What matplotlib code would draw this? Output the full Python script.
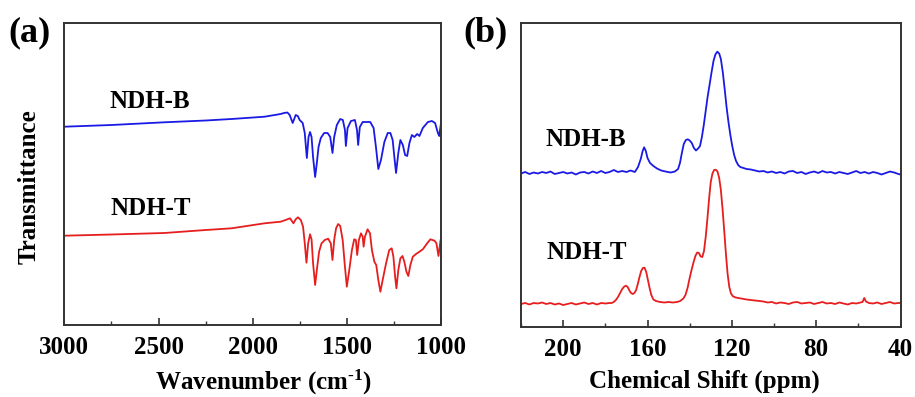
import matplotlib
matplotlib.use("Agg")
import matplotlib.pyplot as plt
from matplotlib.ticker import MultipleLocator

plt.rcParams['font.family'] = ['Liberation Serif', 'DejaVu Serif']
plt.rcParams['font.weight'] = 'bold'
plt.rcParams['mathtext.fontset'] = 'custom'
plt.rcParams['mathtext.rm'] = 'Liberation Serif:bold'
plt.rcParams['mathtext.default'] = 'rm'

# ---------------- Panel (a): FTIR ----------------
ir_b_wn = [3000, 2750, 2470, 2250, 2113, 1938, 1853, 1835, 1817, 1805, 1789, 1773, 1762, 1752,
           1736, 1725, 1714, 1705, 1697, 1689, 1681, 1670, 1661, 1652, 1640, 1622, 1604, 1590,
           1578, 1569, 1555, 1537, 1523, 1512, 1507, 1498, 1480, 1459, 1448, 1442, 1433, 1418,
           1395, 1378, 1360, 1347, 1335, 1321, 1303, 1285, 1271, 1259, 1250, 1241, 1229, 1218,
           1205, 1193, 1182, 1170, 1157, 1144, 1129, 1117, 1099, 1072, 1051, 1034, 1019, 1012,
           1002]
ir_b_t = [198.3, 200, 202.7, 204.5, 206, 208.3, 211, 212, 212.5, 210, 202, 210, 209, 205,
          202, 192, 167, 188, 193, 188, 168, 148, 162, 178, 187, 192, 192, 188,
          172, 188, 200, 206, 205, 195, 179, 197, 204, 205, 195, 180, 198, 203,
          203, 203, 197, 177, 156, 165, 183, 192, 192, 185, 168, 152, 172, 185,
          180, 170, 169, 182, 190, 188, 191, 189, 197, 203, 204, 202, 192, 189,
          203]

ir_t_wn = [3000, 2750, 2470, 2250, 2113, 1938, 1853, 1827, 1803, 1785, 1773, 1761, 1746, 1734,
           1725, 1716, 1707, 1697, 1689, 1681, 1670, 1661, 1649, 1636, 1619, 1601, 1587, 1578,
           1569, 1559, 1548, 1537, 1524, 1512, 1502, 1489, 1475, 1463, 1454, 1447, 1438, 1427,
           1418, 1413, 1406, 1392, 1379, 1369, 1356, 1346, 1335, 1324, 1312, 1294, 1277, 1264,
           1255, 1246, 1239, 1229, 1218, 1207, 1197, 1186, 1176, 1165, 1152, 1135, 1117, 1099,
           1076, 1059, 1037, 1027, 1016, 1005, 1000]
ir_t_t = [89.3, 90.5, 92, 95, 96.7, 101.7, 103.3, 105, 106.7, 101.7, 105.7, 107.7, 105, 98.3,
          81.7, 62.3, 81.7, 90.7, 85.7, 61.7, 40, 55, 73.3, 81.7, 85, 86.3, 81.7, 65,
          85, 96.7, 101, 99, 85, 58.3, 38.3, 55, 75, 85.7, 85, 70, 85, 91.7,
          88.3, 78.3, 88.3, 95.7, 91.7, 75, 63.3, 60, 45, 33.3, 45, 61.7, 75, 76.7,
          68.3, 48.3, 36.7, 55, 66.7, 69, 63.3, 53.3, 49, 60, 68.3, 71, 73.3, 75.7,
          81.7, 85.7, 84.3, 81.7, 69, 85, 86.7]

ir_xticks = [3000, 2500, 2000, 1500, 1000]

# ---------------- Panel (b): 13C NMR ----------------
nmr_b_ppm = [220, 218, 216, 214, 212, 210, 208, 206, 204, 202, 200, 198, 196, 194, 192, 190,
             188, 186, 184, 182, 180, 178, 176, 174, 172, 170, 168, 166, 164.5, 163.2, 162.3,
             161.6, 160.8, 160, 158.8, 157.2, 155.5, 153.5, 151.5, 149, 147, 145.5, 144.6,
             143.7, 142.8, 141.8, 140.9, 140, 139, 138, 137, 136, 135.1, 134.2, 133.3, 132.4,
             131.5, 130.5, 129.6, 128.7, 127.8, 126.9, 126, 125.2, 124.3, 123.4, 122.5, 121.6,
             120.7, 119.8, 118.9, 118, 117, 116, 114.5, 113, 111, 109, 107,
             105, 103, 101, 99, 97, 95, 93, 91, 89, 87, 85, 83, 81, 79, 77, 75, 73, 71, 69, 67,
             65, 63, 61, 59, 57, 55, 53, 51, 49, 47, 45, 43, 41, 40]
nmr_b_i = [153.5, 155, 153, 154.5, 153.5, 155, 154, 155.5, 153, 154, 155, 153.5, 154.5, 152.5,
           154.5, 155, 153.5, 155.5, 154, 156, 154, 155, 157, 155, 156, 155, 156.5, 155, 160,
           168, 176, 179.7, 176, 169, 164, 161, 158.5, 156.5, 155.5, 154.5, 155.5, 158, 164,
           174, 183, 187, 187.7, 186.5, 184, 179, 176.5, 178.5, 181, 190, 202, 216,
           230, 243, 255, 266, 272.5, 275.3, 273.5, 268, 255, 238, 220, 205,
           192, 181, 172, 166, 162, 160, 159, 158, 157.5, 156.5, 155.5,
           156, 154.5, 155.5, 154, 155, 153.5, 155.5, 156, 154, 155, 153, 154.5, 155.5, 154,
           156, 154.5, 155, 153.5, 155, 154, 153, 154.5, 156, 154, 155, 153.5, 155, 154, 152.5,
           154, 155.5, 154.5, 153, 152.5]

nmr_t_ppm = [220, 218, 216, 214, 212, 210, 208, 206, 204, 202, 200, 198, 196, 194, 192, 190,
             188, 186, 184, 182, 180, 178, 177, 176, 175, 174, 173, 172, 171, 170.2, 169.4,
             168.6, 167.8, 167, 166.2, 165.4, 164.6, 163.8, 163, 162.2, 161.4, 160.6, 159.8,
             159, 158.2, 157.2, 156, 154, 152, 150, 148, 146, 144.5, 143, 142, 141, 140, 139,
             138, 137.2, 136.4, 135.6, 134.8, 134, 133.2, 132.4, 131.6, 130.8, 130, 129.2,
             128.4, 127.6, 126.8, 126, 125.2, 124.4, 123.6, 122.8, 122, 121.2, 120.4, 119.6,
             118.5, 117, 115, 113, 111, 109, 107,
             105, 103, 101, 99, 97, 95, 93, 91, 89, 87, 85, 83, 81, 79, 77, 75, 73, 71, 69, 67,
             65, 63, 61, 59, 58, 57.2, 56.4, 55, 53, 51, 49, 47, 45, 43, 41, 40]
nmr_t_i = [23, 24, 22.5, 24, 23.5, 24.5, 23, 24, 22.5, 23.5, 22, 23, 24, 22.5, 23.5, 24.5,
           23, 24, 22.5, 24, 23.5, 24, 24, 25, 27, 30, 34, 38, 40.5, 41.3, 40,
           36.5, 34, 33, 34, 37, 43, 50, 56, 59, 59.3, 55, 47,
           39, 32, 27.5, 26, 25, 24.5, 25, 24.5, 25, 26, 28.5, 32, 39, 49, 58,
           66, 71.5, 74.5, 74, 70.5, 70, 76, 90, 108, 128, 145, 153.5,
           157, 157.3, 155.5, 149, 137, 118, 96, 73, 53, 40, 33.5, 31,
           29.7, 29, 28.3, 27.5, 27, 26.5, 26,
           25.5, 24.5, 25, 23.5, 24.5, 24, 23, 24.5, 25, 23.5, 24, 24.5, 23, 24, 25, 23.5, 24,
           23, 24.5, 23.5, 22.5, 24, 23.5, 24.5, 25, 29, 25.5, 24, 23.5, 24.5, 23, 24, 25,
           23.5, 24, 24]

nmr_xticks = [200, 160, 120, 80, 40]

BLUE = '#1a1ae6'
RED = '#e61e1e'
W, H = 915, 397

fig = plt.figure(figsize=(W / 100, H / 100), dpi=100)
axa = fig.add_axes([64.3 / W, 1 - 325 / H, 377.2 / W, 302.3 / H])
axb = fig.add_axes([521 / W, 1 - 327 / H, 379.5 / W, 304.3 / H])

axa.plot(ir_b_wn, ir_b_t, color=BLUE, lw=1.3)
axa.plot(ir_t_wn, ir_t_t, color=RED, lw=1.3)
axa.set_xlim(3000, 1000)
axa.set_ylim(0, 302.3)
axa.set_xticks(ir_xticks)
axa.xaxis.set_minor_locator(MultipleLocator(250))
axa.set_xlabel('Wavenumber (cm$^{\\text{-1}}$)', fontsize=18, fontweight='bold', labelpad=6)
axa.xaxis.label.set_x(0.528)

axb.plot(nmr_b_ppm, nmr_b_i, color=BLUE, lw=1.3)
axb.plot(nmr_t_ppm, nmr_t_i, color=RED, lw=1.3)
axb.set_xlim(220, 40)
axb.set_ylim(0, 304.3)
axb.set_xticks(nmr_xticks)
axb.xaxis.set_minor_locator(MultipleLocator(20))
axb.set_xlabel('Chemical Shift (ppm)', fontsize=18, fontweight='bold', labelpad=6)
axb.xaxis.label.set_x(0.483)

for ax in (axa, axb):
    ax.set_yticks([])
    for s in ax.spines.values():
        s.set_linewidth(1.4)
        s.set_color('#333333')
    ax.tick_params(axis='x', which='major', direction='in', length=5, width=1.2,
                   labelsize=18, pad=8, colors='#333333', labelcolor='black')
    ax.tick_params(axis='x', which='minor', direction='in', length=3, width=1.0,
                   colors='#333333')
    for lab in ax.get_xticklabels():
        lab.set_fontweight('bold')

fig.text(29 / W, 1 - 186.5 / H, 'Transmittance', rotation=90, ha='center', va='center',
         fontsize=18, fontweight='bold')

def ftxt(x, y, s, size=18):
    fig.text(x / W, 1 - y / H, s, ha='left', va='baseline', fontsize=size, fontweight='bold')

ftxt(8, 41.5, '(a)', size=26)
ftxt(463, 41.5, '(b)', size=26)
ftxt(110, 108, 'NDH-B')
ftxt(110.7, 215, 'NDH-T')
ftxt(545, 146, 'NDH-B')
ftxt(546.7, 259.3, 'NDH-T')

fig.savefig('out.png', dpi=100)
